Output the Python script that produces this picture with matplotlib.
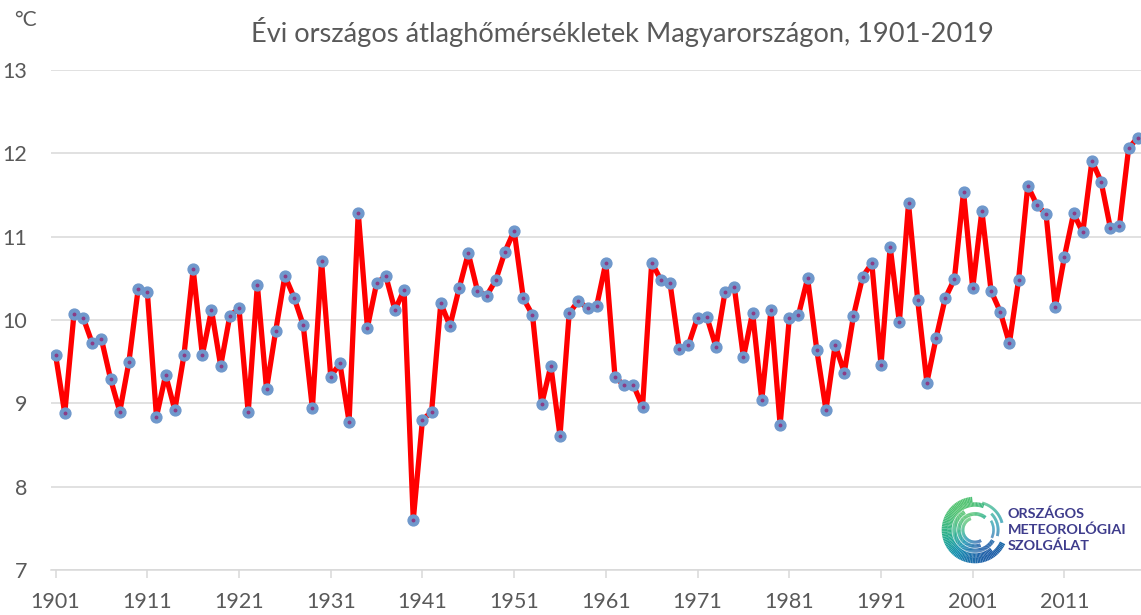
import numpy as np
import matplotlib
matplotlib.use("Agg")
import matplotlib.pyplot as plt
from matplotlib.collections import LineCollection
from matplotlib.colors import LinearSegmentedColormap

plt.rcParams['font.family'] = ['Lato', 'DejaVu Sans']

# adatok: évi országos átlaghőmérséklet (°C), leolvasva az ábráról
years = np.arange(1901, 2020)
temps = [
    9.58, 8.88, 10.07, 10.03, 9.72, 9.77, 9.29, 8.90, 9.50, 10.37,
    10.34, 8.84, 9.34, 8.92, 9.58, 10.61, 9.58, 10.12, 9.45, 10.05,
    10.14, 8.89, 10.42, 9.17, 9.87, 10.53, 10.27, 9.94, 8.94, 10.71,
    9.32, 9.48, 8.78, 11.29, 9.91, 10.44, 10.53, 10.12, 10.36, 7.60,
    8.80, 8.90, 10.20, 9.93, 10.38, 10.80, 10.35, 10.29, 10.48, 10.82,
    11.07, 10.26, 10.06, 8.99, 9.45, 8.61, 10.08, 10.23, 10.14, 10.17,
    10.69, 9.31, 9.22, 9.22, 8.96, 10.69, 10.48, 10.44, 9.65, 9.70,
    10.03, 10.04, 9.68, 10.34, 10.40, 9.55, 10.09, 9.04, 10.12, 8.74,
    10.02, 10.06, 10.50, 9.64, 8.92, 9.70, 9.37, 10.05, 10.52, 10.68,
    9.46, 10.88, 9.97, 11.40, 10.24, 9.25, 9.78, 10.26, 10.49, 11.54,
    10.38, 11.31, 10.35, 10.10, 9.72, 10.48, 11.61, 11.38, 11.27, 10.15,
    10.76, 11.28, 11.05, 11.91, 11.66, 11.11, 11.13, 12.06, 12.19,
]
xtick_years = list(range(1901, 2020, 10))
yticks = [7, 8, 9, 10, 11, 12, 13]
title = "Évi országos átlaghőmérsékletek Magyarországon, 1901-2019"
logo_lines = ["ORSZÁGOS", "METEOROLÓGIAI", "SZOLGÁLAT"]

W, H = 1141, 615
fig = plt.figure(figsize=(W / 100, H / 100), dpi=100)
ax = fig.add_axes([51 / W, (H - 570) / H, 1 - 51 / W, 500 / H])

ax.plot(years, temps, color='#FF0000', lw=3.8, zorder=3, solid_joinstyle='round')
ax.plot(years, temps, ls='none', marker='o', ms=7.8, mfc='#6F98CC', mec='#6F98CC', zorder=4)
ax.plot(years, temps, ls='none', marker='o', ms=1.8, mfc='#8A3D86', mec='#8A3D86', zorder=5)

ax.set_xlim(1900.5, 2019.35)
ax.set_ylim(7, 13)
ax.set_yticks(yticks)
ax.set_xticks(xtick_years)
ax.grid(axis='y', color='#D9D9D9', lw=1.1)
ax.set_axisbelow(True)
for s in ['top', 'right', 'left']:
    ax.spines[s].set_visible(False)
ax.spines['bottom'].set_color('#D9D9D9')
ax.spines['bottom'].set_linewidth(1.1)
ax.tick_params(axis='y', length=0, pad=17, labelsize=15.5, labelcolor='#595959')
ax.tick_params(axis='x', length=6, width=1.1, color='#D9D9D9', pad=10,
               labelsize=15.5, labelcolor='#595959')

fig.text(622 / W, 1 - 32 / H, title, ha='center', va='center',
         fontsize=19.6, color='#595959')
fig.text(25 / W, 1 - 20 / H, "°C", ha='center', va='center',
         fontsize=15, color='#595959')

# OMSZ logó: spirál ívek
lax = fig.add_axes([940 / W, (H - 568) / H, 70 / W, 76 / H])
lax.set_xlim(-1.15, 1.15)
lax.set_ylim(-1.25, 1.25)
lax.set_aspect('equal')
lax.axis('off')
cmap = LinearSegmentedColormap.from_list('omsz', ['#1F5FA8', '#1590B0', '#27AE8E', '#55C472'])
rings = [(1.0, 95, 335, 4.2), (0.84, 70, 310, 3.2), (0.68, 120, 330, 3.0),
         (0.53, 50, 290, 2.6), (0.40, 110, 300, 2.2), (0.92, 15, 75, 2.0),
         (0.76, 345, 405, 2.0), (0.61, 335, 390, 1.8)]
for r, a1, a2, lw in rings:
    th = np.radians(np.linspace(a1, a2, 80))
    pts = np.column_stack([r * np.cos(th), r * np.sin(th)])
    segs = np.stack([pts[:-1], pts[1:]], axis=1)
    c = (np.sin(th[:-1] - np.radians(210)) + 1) / 2
    lc = LineCollection(segs, colors=cmap(1 - c), linewidths=lw, capstyle='butt')
    lax.add_collection(lc)

for i, t in enumerate(logo_lines):
    fig.text(1008 / W, 1 - (514 + 16 * i) / H, t, ha='left', va='center',
             fontsize=10.4, fontweight='bold', color='#3E3C8C')

fig.savefig('out.png', dpi=100)
